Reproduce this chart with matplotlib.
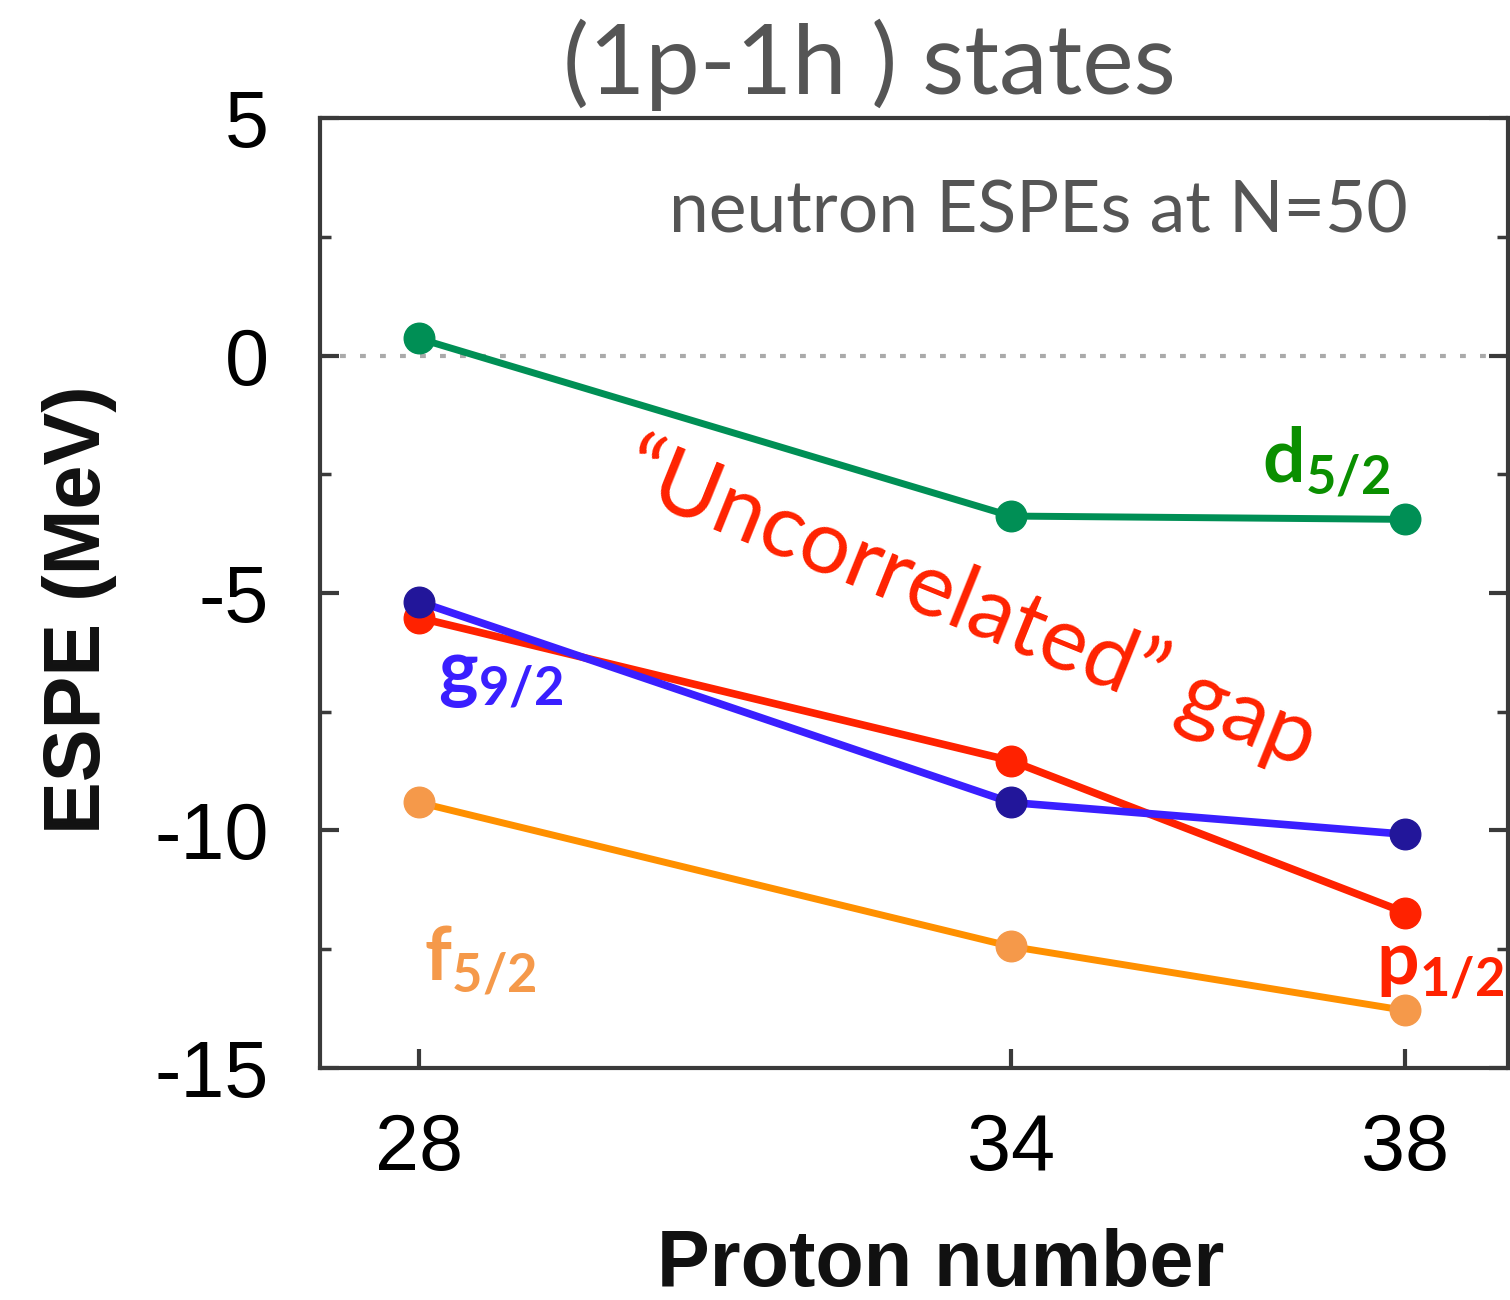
import matplotlib
matplotlib.use("Agg")
import matplotlib.pyplot as plt
from matplotlib.ticker import MultipleLocator

# Proton number and neutron ESPEs at N=50 (MeV)
protons = [28, 34, 38]
d52 = [0.36, -3.38, -3.45]
g92 = [-5.18, -9.41, -10.08]
p12 = [-5.52, -8.53, -11.73]
f52 = [-9.41, -12.44, -13.79]

GRAY = "#555555"

plt.rcParams["mathtext.fontset"] = "custom"
plt.rcParams["mathtext.bf"] = "Lato:bold"
plt.rcParams["mathtext.rm"] = "Lato"

fig = plt.figure(figsize=(15.1, 13), dpi=100)
ax = fig.add_axes([0.2119, 0.1785, 0.7868, 0.7307])

ax.axhline(0, color="#aaaaaa", lw=3, ls=(0, (1.4, 3.4)), zorder=1)

ax.plot(protons, d52, color="#008f55", lw=5, marker="o", ms=22,
        mfc="#008f55", mec="#008f55", zorder=3)
ax.plot(protons, f52, color="#ff9000", lw=5, marker="o", ms=22,
        mfc="#f5994a", mec="#f5994a", zorder=3)
ax.plot(protons, p12, color="#ff2200", lw=5.5, marker="o", ms=22,
        mfc="#ff2200", mec="#ff2200", zorder=3)
ax.plot(protons, g92, color="#3a1fff", lw=5.5, marker="o", ms=22,
        mfc="#22169a", mec="#22169a", zorder=4)

ax.set_xlim(27, 39.04)
ax.set_ylim(-15, 5)
ax.set_xticks(protons)
ax.yaxis.set_minor_locator(MultipleLocator(2.5))
ax.set_yticks([-15, -10, -5, 0, 5])
ax.set_yticklabels(["-15", "-10", "-5", "0", "5"])

for s in ax.spines.values():
    s.set_linewidth(3)
    s.set_color("#3a3a3a")
ax.tick_params(axis="both", which="major", direction="in", length=14, width=3,
               color="#3a3a3a", labelsize=57)
ax.tick_params(axis="y", which="both", right=True, direction="in", pad=37)
ax.tick_params(axis="y", which="minor", length=8, width=2.5, color="#3a3a3a")
ax.tick_params(axis="x", pad=32)
for lab in ax.get_xticklabels() + ax.get_yticklabels():
    lab.set_family("Liberation Sans")

ax.set_xlabel("Proton number", fontsize=57, fontweight="bold",
              family="Liberation Sans", color="#111111")
ax.set_ylabel("ESPE (MeV)", fontsize=57, fontweight="bold",
              family="Liberation Sans", color="#111111")
ax.xaxis.set_label_coords(0.5227, -0.168)
ax.yaxis.set_label_coords(-0.171, 0.482)

fig.text(0.5755, 0.95, "(1p-1h ) states", fontsize=70, color=GRAY,
         family="Lato", ha="center", va="center")
ax.text(0.916, 0.901, "neutron ESPEs at N=50", transform=ax.transAxes,
        fontsize=51.5, color=GRAY, family="Lato", ha="right", va="center")
ax.text(0.547, 0.487, "\u201cUncorrelated\u201d gap", transform=ax.transAxes,
        fontsize=64, color="#ff2200", family="Lato", ha="center",
        va="center", rotation=-22)

ax.text(36.55, -2.25, r"$\mathbf{d}_{\mathbf{5/2}}$", fontsize=54,
        color="#0a8f00", ha="left", va="center")
ax.text(28.2, -6.7, r"$\mathbf{g}_{\mathbf{9/2}}$", fontsize=54,
        color="#3a1fff", ha="left", va="center")
ax.text(28.05, -12.75, r"$\mathbf{f}_{\mathbf{5/2}}$", fontsize=54,
        color="#f5994a", ha="left", va="center")
ax.text(37.7, -12.85, r"$\mathbf{p}_{\mathbf{1/2}}$", fontsize=54,
        color="#ff2200", ha="left", va="center")

fig.savefig("out.png", dpi=100)
